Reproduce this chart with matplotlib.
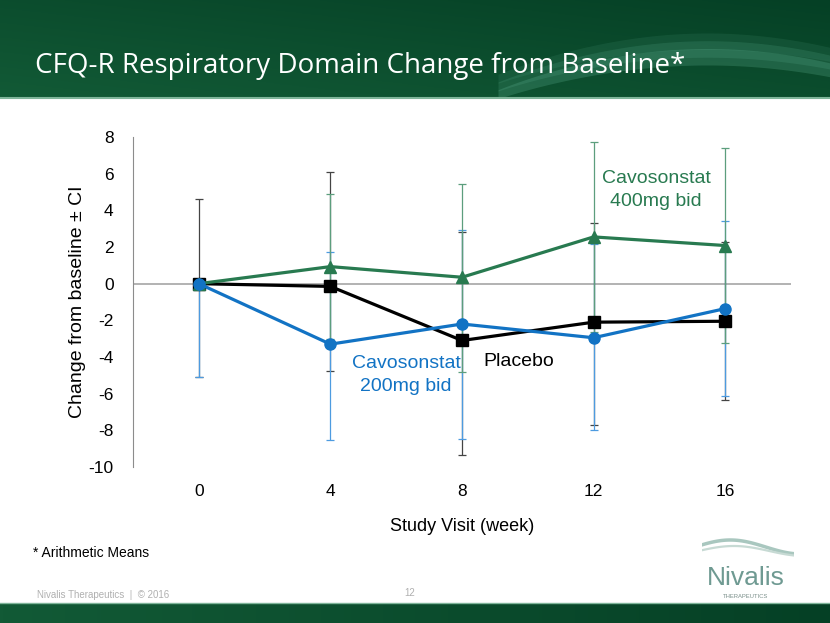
import numpy as np
import matplotlib
matplotlib.use("Agg")
import matplotlib.pyplot as plt

plt.rcParams["font.family"] = ["Liberation Sans", "DejaVu Sans"]
plt.rcParams["axes.unicode_minus"] = False

# Data
weeks = [0, 4, 8, 12, 16]

placebo = [0, -0.15, -3.1, -2.1, -2.05]
placebo_lo = [-5.1, -4.75, -9.35, -7.7, -6.37]
placebo_hi = [4.6, 6.1, 2.8, 3.3, 2.27]

cav200 = [0, -3.3, -2.2, -2.95, -1.36]
cav200_lo = [-5.1, -8.55, -8.45, -8.0, -6.12]
cav200_hi = [0, 1.7, 2.95, 2.17, 3.4]

cav400 = [0, 0.93, 0.35, 2.55, 2.08]
cav400_lo = [0, -3.0, -4.8, -2.63, -3.24]
cav400_hi = [0, 4.87, 5.45, 7.73, 7.4]

yticks = [8, 6, 4, 2, 0, -2, -4, -6, -8, -10]

GREEN = "#287a50"
BLUE = "#1273c4"
BLACK = "#000000"

fig = plt.figure(figsize=(8.3, 6.23), dpi=100)
fig.patch.set_facecolor("white")

c1 = np.array([0x12, 0x5a, 0x36]) / 255
c2 = np.array([0x05, 0x40, 0x25]) / 255

# header band
hdr = fig.add_axes([0, 1 - 97 / 623, 1, 97 / 623])
gx, gy = np.meshgrid(np.linspace(0, 1, 256), np.linspace(0, 1, 64))
mix = np.clip(0.5 * gx + 0.5 * (1 - gy), 0, 1)[..., None]
hdr.imshow(c1 * (1 - mix) + c2 * mix, aspect="auto", extent=[0, 1, 0, 1])
t = np.linspace(0, 1, 200)
xs = 0.60 + 0.42 * t
for k, a in enumerate([0.22, 0.15, 0.10]):
    shape = np.sin(np.pi * (0.05 + 0.75 * t)) ** 0.8
    top = -0.05 + 0.08 * k + 0.55 * shape
    bot = -0.12 + 0.08 * k + 0.45 * shape
    hdr.fill_between(xs, bot, top, color="#6fc4a6", alpha=a, lw=0)
hdr.set_xlim(0, 1)
hdr.set_ylim(0, 1)
hdr.axis("off")
fig.add_artist(plt.Line2D([0, 1], [1 - 98 / 623] * 2, color="#7fb59a", lw=1.5))
fig.text(35 / 830, 1 - 66 / 623, "CFQ-R Respiratory Domain Change from Baseline*",
         color="white", fontsize=20, family="Open Sans", va="center", ha="left")

# footer band
ftr = fig.add_axes([0, 0, 1, 20 / 623])
fx = np.linspace(0, 1, 256)[None, :, None]
ftr.imshow(c1 * (1 - fx) + c2 * fx, aspect="auto", extent=[0, 1, 0, 1])
ftr.axis("off")
fig.add_artist(plt.Line2D([0, 1], [20 / 623] * 2, color="#7fb59a", lw=1))

ax = fig.add_axes([133 / 830, 1 - 467 / 623, 658 / 830, 330 / 623])

ax.axhline(0, color="#a6a6a6", lw=1.2, zorder=1)

ax.errorbar(weeks, placebo,
            yerr=[np.array(placebo) - np.array(placebo_lo), np.array(placebo_hi) - np.array(placebo)],
            fmt="none", ecolor="#444444", elinewidth=0.9, capsize=3, capthick=0.9, zorder=2)
ax.errorbar(weeks, cav200,
            yerr=[np.array(cav200) - np.array(cav200_lo), np.array(cav200_hi) - np.array(cav200)],
            fmt="none", ecolor="#4d9be0", elinewidth=0.9, capsize=3, capthick=0.9, zorder=3)
ax.errorbar(weeks, cav400,
            yerr=[np.array(cav400) - np.array(cav400_lo), np.array(cav400_hi) - np.array(cav400)],
            fmt="none", ecolor="#5c9e7d", elinewidth=0.9, capsize=3, capthick=0.9, zorder=4)

ax.plot(weeks, placebo, color=BLACK, lw=2.3, marker="s", ms=8, zorder=5)
ax.plot(weeks, cav400, color=GREEN, lw=2.3, marker="^", ms=8.5, zorder=6)
ax.plot(weeks, cav200, color=BLUE, lw=2.3, marker="o", ms=8, zorder=7)

ax.set_xlim(-2, 18)
ax.set_ylim(-10, 8)
ax.set_xticks(weeks)
ax.set_yticks(yticks)
ax.tick_params(length=0, labelsize=12.5)
ax.tick_params(axis="y", pad=14)
ax.tick_params(axis="x", pad=12)
for s in ["top", "right", "bottom"]:
    ax.spines[s].set_visible(False)
ax.spines["left"].set_color("#8c8c8c")
ax.set_ylabel("Change from baseline \u00b1 CI", fontsize=14, labelpad=2)
ax.set_xlabel("Study Visit (week)", fontsize=13, labelpad=14)

ax.text(13.9, 5.1, "Cavosonstat\n400mg bid", color=GREEN, fontsize=14, ha="center", va="center",
        linespacing=1.45)
ax.text(6.3, -5.0, "Cavosonstat\n200mg bid", color=BLUE, fontsize=14, ha="center", va="center",
        linespacing=1.45)
ax.text(8.65, -4.25, "Placebo", color=BLACK, fontsize=14, ha="left", va="center")

fig.text(33 / 830, 1 - 553 / 623, "* Arithmetic Means", fontsize=10, va="center")
fig.text(37 / 830, 1 - 595 / 623, "Nivalis Therapeutics  |  \u00a9 2016", fontsize=7,
         color="#b0b0b0", va="center")
fig.text(410 / 830, 1 - 593 / 623, "12", fontsize=7, color="#b0b0b0", va="center", ha="center")

# logo
fig.text(746 / 830, 1 - 578 / 623, "Nivalis", fontsize=19, color="#6f9a92", ha="center", va="center")
fig.text(746 / 830, 1 - 597 / 623, "THERAPEUTICS", fontsize=4.2, color="#7a8f8a", ha="center", va="center")
lg = fig.add_axes([702 / 830, 1 - 560 / 623, 92 / 830, 24 / 623])
u = np.linspace(0, 1, 100)
lg.plot(u, 0.45 + 0.35 * np.sin(np.pi * (u * 1.3 + 0.1)), color="#a9c7bf", lw=2.5)
lg.plot(u, 0.25 + 0.25 * np.sin(np.pi * (u * 1.3 + 0.05)), color="#c7dad4", lw=1.6)
lg.set_xlim(0, 1)
lg.set_ylim(-0.2, 1)
lg.axis("off")

fig.savefig("out.png", dpi=100)
